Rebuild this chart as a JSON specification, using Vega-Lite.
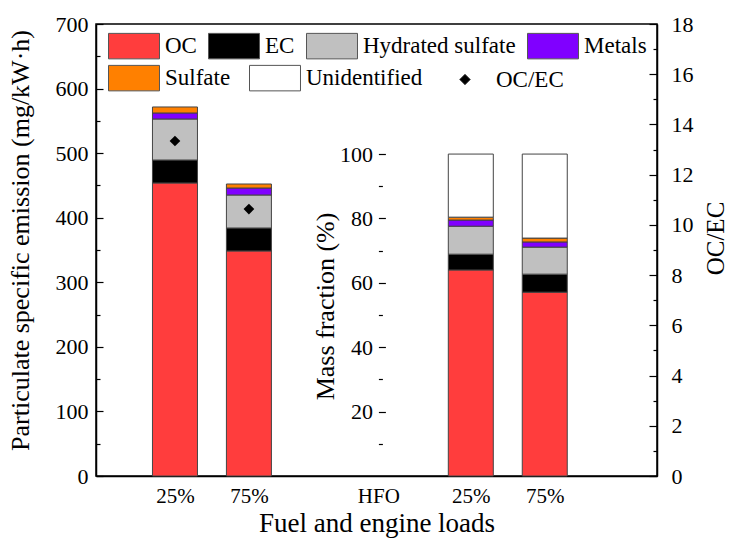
{
  "$schema": "https://vega.github.io/schema/vega-lite/v6.json",
  "width": 561,
  "height": 452,
  "autosize": {"type": "none"},
  "padding": {"left": 96, "top": 24, "right": 74, "bottom": 69},
  "config": {
    "font": "Liberation Serif",
    "view": {"stroke": "black", "strokeWidth": 1.5},
    "legend": {
      "title": null,
      "padding": 0,
      "labelFont": "Liberation Serif",
      "labelFontSize": 23,
      "labelColor": "black",
      "labelOffset": 5,
      "labelLimit": 400,
      "symbolStrokeColor": "#555555",
      "symbolStrokeWidth": 1,
      "symbolOpacity": 1
    },
    "axis": {
      "grid": false,
      "domainColor": "black",
      "domainWidth": 1.5,
      "tickColor": "black",
      "tickWidth": 1.2,
      "labelFont": "Liberation Serif",
      "labelFontSize": 22,
      "labelColor": "black",
      "titleFont": "Liberation Serif",
      "titleFontSize": 26,
      "titleFontWeight": "normal",
      "titleColor": "black"
    }
  },
  "datasets": {
    "emission": [
      {"pos": 1, "load": "25%", "component": "OC", "value": 453.8},
      {"pos": 1, "load": "25%", "component": "EC", "value": 35.6},
      {"pos": 1, "load": "25%", "component": "Hydrated sulfate", "value": 63.5},
      {"pos": 1, "load": "25%", "component": "Metals", "value": 9.3},
      {"pos": 1, "load": "25%", "component": "Sulfate", "value": 9.3},
      {"pos": 2, "load": "75%", "component": "OC", "value": 348.5},
      {"pos": 2, "load": "75%", "component": "EC", "value": 35.6},
      {"pos": 2, "load": "75%", "component": "Hydrated sulfate", "value": 51.1},
      {"pos": 2, "load": "75%", "component": "Metals", "value": 10.8},
      {"pos": 2, "load": "75%", "component": "Sulfate", "value": 6.2}
    ],
    "fraction": [
      {"pos": 5, "load": "25%", "component": "OC", "value": 64.0},
      {"pos": 5, "load": "25%", "component": "EC", "value": 4.9},
      {"pos": 5, "load": "25%", "component": "Hydrated sulfate", "value": 8.7},
      {"pos": 5, "load": "25%", "component": "Metals", "value": 1.9},
      {"pos": 5, "load": "25%", "component": "Sulfate", "value": 0.9},
      {"pos": 5, "load": "25%", "component": "Unidentified", "value": 19.6},
      {"pos": 6, "load": "75%", "component": "OC", "value": 57.1},
      {"pos": 6, "load": "75%", "component": "EC", "value": 5.6},
      {"pos": 6, "load": "75%", "component": "Hydrated sulfate", "value": 8.4},
      {"pos": 6, "load": "75%", "component": "Metals", "value": 1.6},
      {"pos": 6, "load": "75%", "component": "Sulfate", "value": 1.2},
      {"pos": 6, "load": "75%", "component": "Unidentified", "value": 26.1}
    ],
    "ratio": [
      {"pos": 1, "load": "25%", "component": "OC/EC", "ratio": 13.34},
      {"pos": 2, "load": "75%", "component": "OC/EC", "ratio": 10.63}
    ]
  },
  "encoding": {
    "x": {
      "field": "pos",
      "type": "quantitative",
      "scale": {"domain": [0, 7.45], "nice": false, "zero": false},
      "axis": {
        "orient": "bottom",
        "values": [1, 2, 3.75, 5, 6],
        "labelExpr": "datum.value == 1 || datum.value == 5 ? '25%' : (datum.value == 2 || datum.value == 6 ? '75%' : 'HFO')",
        "ticks": false,
        "labelPadding": 9,
        "labelFontSize": 21,
        "title": "Fuel and engine loads",
        "titleFontSize": 27,
        "titlePadding": 4
      }
    }
  },
  "layer": [
    {
      "data": {"name": "emission"},
      "transform": [
        {"calculate": "indexof(['OC','EC','Hydrated sulfate','Metals','Sulfate','Unidentified'], datum.component)", "as": "stackOrder"}
      ],
      "mark": {"type": "bar", "size": 45, "stroke": "#444444", "strokeWidth": 1},
      "encoding": {
        "y": {
          "field": "value",
          "type": "quantitative",
          "stack": "zero",
          "scale": {"domain": [0, 700], "nice": false},
          "axis": {
            "orient": "left",
            "values": [0, 50, 100, 150, 200, 250, 300, 350, 400, 450, 500, 550, 600, 650, 700],
            "labelExpr": "datum.value % 100 === 0 ? datum.label : ''",
            "tickSize": {"condition": {"test": "datum.value % 100 === 0", "value": -7}, "value": -4},
            "labelPadding": 15,
            "title": "Particulate specific emission (mg/kW·h)",
            "titleX": -76,
            "titleY": 216,
            "titleBaseline": "middle",
            "titleAlign": "center",
            "titleAngle": 270
          }
        },
        "order": {"field": "stackOrder", "type": "quantitative", "sort": "ascending"},
        "color": {
          "field": "component",
          "type": "nominal",
          "scale": {
            "domain": ["OC", "EC", "Hydrated sulfate", "Metals", "Sulfate", "Unidentified"],
            "range": ["#FF3D3D", "#000000", "#C0C0C0", "#8000FF", "#FF8000", "#FFFFFF"]
          },
          "legend": {
            "orient": "none",
            "legendX": 12,
            "legendY": -4,
            "direction": "horizontal",
            "values": ["OC", "EC", "Hydrated sulfate", "Metals"],
            "symbolType": "M-1,-0.5H1V0.5H-1Z",
            "symbolSize": 2600,
            "columnPadding": 9
          }
        }
      }
    },
    {
      "layer": [
        {
          "data": {"name": "fraction"},
          "transform": [
            {"calculate": "indexof(['OC','EC','Hydrated sulfate','Metals','Sulfate','Unidentified'], datum.component)", "as": "stackOrder"}
          ],
          "mark": {"type": "bar", "size": 45, "stroke": "#444444", "strokeWidth": 1},
          "encoding": {
            "y": {
              "field": "value",
              "type": "quantitative",
              "stack": "zero",
              "scale": {"domain": [0, 140.4], "nice": false},
              "axis": {
                "orient": "left",
                "offset": -282.4,
                "domain": false,
                "values": [10, 20, 30, 40, 50, 60, 70, 80, 90, 100],
                "labelExpr": "datum.value % 20 === 0 ? datum.label : ''",
                "tickSize": {"condition": {"test": "datum.value % 20 === 0", "value": -7}, "value": -4},
                "labelPadding": 13,
                "title": "Mass fraction (%)",
                "titleX": -53,
                "titleY": 282,
                "titleBaseline": "middle",
                "titleAlign": "center",
                "titleAngle": 270
              }
            },
            "order": {"field": "stackOrder", "type": "quantitative", "sort": "ascending"},
            "color": {
              "field": "component",
              "type": "nominal",
              "scale": {
                "domain": ["OC", "EC", "Hydrated sulfate", "Metals", "Sulfate", "Unidentified"],
                "range": ["#FF3D3D", "#000000", "#C0C0C0", "#8000FF", "#FF8000", "#FFFFFF"]
              }
            }
          }
        },
        {
          "data": {"values": [{}]},
          "mark": {"type": "rule", "color": "black", "strokeWidth": 1.5},
          "encoding": {
            "x": {"datum": 3.75, "type": "quantitative"},
            "y": {"datum": 0, "type": "quantitative"},
            "y2": {"datum": 100}
          }
        }
      ]
    },
    {
      "data": {"name": "ratio"},
      "mark": {"type": "point", "filled": true, "opacity": 1, "strokeWidth": 0, "size": 2600},
      "encoding": {
        "y": {
          "field": "ratio",
          "type": "quantitative",
          "scale": {"domain": [0, 18], "nice": false},
          "axis": {
            "orient": "right",
            "values": [0, 1, 2, 3, 4, 5, 6, 7, 8, 9, 10, 11, 12, 13, 14, 15, 16, 17, 18],
            "labelExpr": "datum.value % 2 === 0 ? datum.label : ''",
            "tickSize": {"condition": {"test": "datum.value % 2 === 0", "value": -8}, "value": -4},
            "labelPadding": 22,
            "title": "OC/EC",
            "titleFontSize": 25,
            "titleX": 58,
            "titleY": 214,
            "titleBaseline": "middle",
            "titleAlign": "center",
            "titleAngle": 270
          }
        },
        "fill": {
          "field": "component",
          "type": "nominal",
          "scale": {
            "domain": ["Sulfate", "Unidentified", "OC/EC"],
            "range": ["#FF8000", "#FFFFFF", "#000000"]
          },
          "legend": {
            "orient": "none",
            "legendX": 12,
            "legendY": 28,
            "direction": "horizontal",
            "symbolSize": 2600,
            "columnPadding": 16,
            "encode": {"symbols": {"update": {"stroke": {"value": "#555555"}, "strokeWidth": {"value": 1}}}}
          }
        },
        "shape": {
          "field": "component",
          "type": "nominal",
          "scale": {
            "domain": ["Sulfate", "Unidentified", "OC/EC"],
            "range": ["M-1,-0.5H1V0.5H-1Z", "M-1,-0.5H1V0.5H-1Z", "M0,-0.21L0.21,0L0,0.21L-0.21,0Z"]
          },
          "legend": {
            "orient": "none",
            "legendX": 12,
            "legendY": 28,
            "direction": "horizontal",
            "symbolSize": 2600,
            "columnPadding": 16,
            "encode": {"symbols": {"update": {"stroke": {"value": "#555555"}, "strokeWidth": {"value": 1}}}}
          }
        }
      }
    }
  ],
  "resolve": {"scale": {"y": "independent"}}
}
